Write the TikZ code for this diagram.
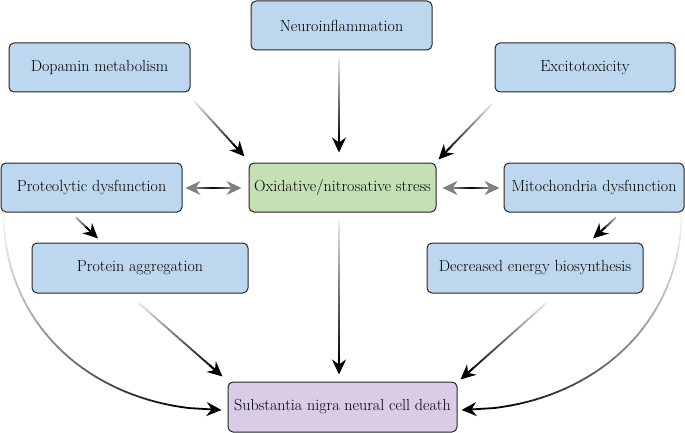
\documentclass[tikz,border=0pt]{standalone}
\usepackage{fontspec}
\setmainfont{Latin Modern Roman}
\usetikzlibrary{calc,arrows.meta,decorations.markings}
\definecolor{bbox}{HTML}{BDD7EE}
\definecolor{gbox}{HTML}{C5E0B4}
\definecolor{pbox}{HTML}{D9CCE6}
\tikzset{
  box/.style={draw=black!85, line width=1pt, rounded corners=5pt, minimum height=49pt,
    inner sep=0pt, font=\rmfamily\fontsize{16}{19}\selectfont, text=black},
  gl/.style={line width=1.8pt},
  tip/.style={-{Stealth[length=15pt,width=14pt,inset=5pt]}},
}
\newcommand\gline[3]{%
  \coordinate (gA) at (#1); \coordinate (gB) at (#2);
  \coordinate (gC) at ($(gB)!10pt!(gA)$);
  \foreach \i in {0,...,29}{\pgfmathsetmacro\gshade{#3+(100-#3)*\i/29}
    \draw[gl, draw=black!\gshade] ($(gA)!\i/30!(gC)$) -- ($(gA)!{min(1,(\i+1.15)/30)}!(gC)$);}
  \draw[gl, black, tip] ($(gB)!17pt!(gA)$) -- (gB);}
\newcommand\dline[2]{%
  \coordinate (gA) at (#1); \coordinate (gB) at (#2);
  \coordinate (gA2) at ($(gA)!10pt!(gB)$); \coordinate (gB2) at ($(gB)!10pt!(gA)$);
  \draw[gl, black!50, tip] ($(gA)!16pt!(gB)$) -- (gA);
  \draw[gl, black!50, tip] ($(gB)!16pt!(gA)$) -- (gB);
  \foreach \i in {0,...,19}{\pgfmathsetmacro\gshade{45+55*(1-abs(2*(\i+0.5)/20-1))}
    \draw[gl, draw=black!\gshade] ($(gA2)!\i/20!(gB2)$) -- ($(gA2)!{min(1,(\i+1.15)/20)}!(gB2)$);}}
\newcommand\gcurve[3]{%
  \path[decorate, decoration={markings, mark=between positions 0 and 1 step 0.025 with
    {\coordinate (gm\pgfkeysvalueof{/pgf/decoration/mark info/sequence number});}}]
    (#1) .. controls #2 .. (#3);
  \foreach \i [evaluate=\i as \j using int(\i+1)] in {1,...,36}{%
    \pgfmathsetmacro\gshade{4+96*((\i-1)/35)^1.15}
    \draw[gl, draw=black!\gshade, line cap=round] (gm\i) -- (gm\j);}
  \draw[gl, black, tip] (gm37) -- (#3);}
\begin{document}
\begin{tikzpicture}[x=1pt,y=-1pt]
\useasboundingbox (0,0) rectangle (685,433);
\node[box, fill=bbox, minimum width=181pt] (neuro) at (341.5,25.5) {Neuroinflammation};
\node[box, fill=bbox, minimum width=181pt] (dopa) at (99.5,67.5) {Dopamin metabolism};
\node[box, fill=bbox, minimum width=180pt] (excit) at (585,67.5) {Excitotoxicity};
\node[box, fill=bbox, minimum width=181pt] (prot) at (91.5,187.5) {Proteolytic dysfunction};
\node[box, fill=gbox, minimum width=187pt] (oxid) at (342.5,187.5) {Oxidative/nitrosative stress};
\node[box, fill=bbox, minimum width=180pt] (mito) at (594,187.5) {Mitochondria dysfunction};
\node[box, fill=bbox, minimum width=216pt, minimum height=50pt] (aggr) at (140,268) {Protein aggregation};
\node[box, fill=bbox, minimum width=216pt, minimum height=50pt] (decr) at (535,268) {Decreased energy biosynthesis};
\node[box, fill=pbox, minimum width=229pt, minimum height=50pt] (subst) at (342.5,407) {Substantia nigra neural cell death};

\gline{$(neuro.south)+(-2.5,8)$}{$(oxid.north)+(-3.5,-10)$}{8}
\gline{$(dopa.south east)+(3,8)$}{$(oxid.north west)+(-4,-6)$}{8}
\gline{$(excit.south west)+(-2,11)$}{$(oxid.north east)+(2,-3)$}{8}
\dline{$(prot.east)+(3,0.5)$}{$(oxid.west)+(-7,0.5)$}
\dline{$(oxid.east)+(6,0.5)$}{$(mito.west)+(-4,0.5)$}
\gline{$(prot.south)+(-15.5,5)$}{$(aggr.north)+(-42,-4)$}{30}
\gline{$(mito.south)+(22,5)$}{$(decr.north)+(58,-4)$}{30}
\gline{$(aggr.south)+(-2,9)$}{$(subst.north west)+(-5,-5)$}{8}
\gline{$(decr.south)+(12,9)$}{$(subst.north east)+(3,-2)$}{8}
\gline{$(oxid.south)+(-3.5,8)$}{$(subst.north)+(-3.5,-7)$}{8}
\gcurve{$(prot.south west)+(3,0)$}{+(0,118) and +(-122,0)}{$(subst.west)+(-6,3)$}
\gcurve{$(mito.south east)+(-3,0)$}{+(0,118) and +(122,0)}{$(subst.east)+(4,3)$}
\end{tikzpicture}
\end{document}
